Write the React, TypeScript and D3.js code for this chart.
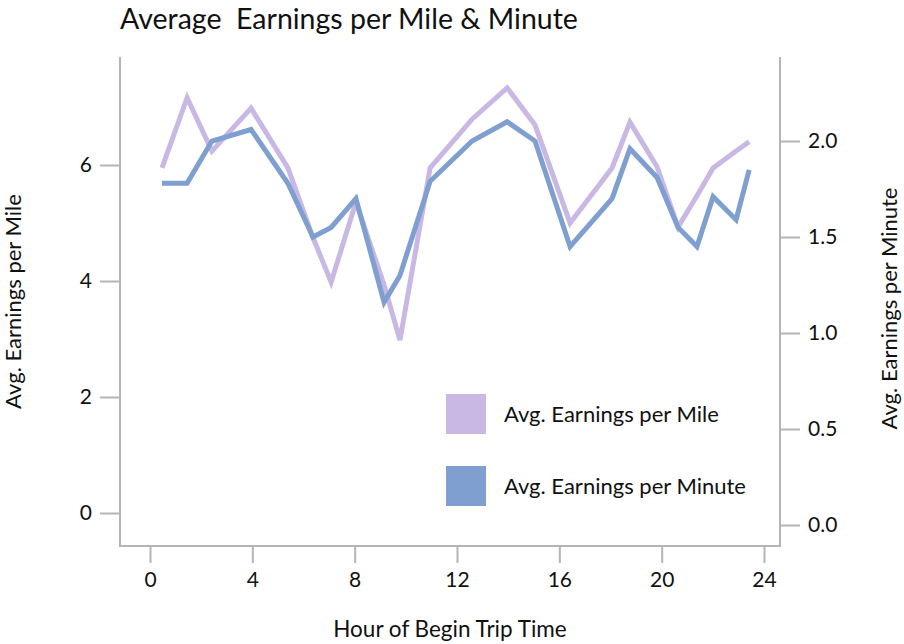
import React, { useEffect, useRef } from 'react';
import * as d3 from 'd3';

// Hour of trip start (binned mean hour) and the two averages
const hours = [0.47, 1.45, 2.42, 3.95, 5.39, 6.37, 7.08, 8.05, 9.15, 9.77, 10.95, 12.59, 13.96, 15.05, 16.42, 18.06, 18.76, 19.82, 20.64, 21.38, 22.01, 22.91, 23.42];
const perMile = [5.95, 7.16, 6.24, 6.98, 5.95, 4.75, 3.98, 5.36, 3.93, 2.98, 5.95, 6.79, 7.33, 6.69, 5.0, 5.95, 6.74, 5.97, 4.93, 5.47, 5.95, 6.24, 6.4];
const perMinute = [1.78, 1.78, 2.0, 2.06, 1.78, 1.5, 1.55, 1.7, 1.16, 1.3, 1.79, 2.0, 2.1, 2.0, 1.45, 1.7, 1.96, 1.81, 1.55, 1.45, 1.71, 1.59, 1.85];

const xTicks = [0, 4, 8, 12, 16, 20, 24];
const mileTicks = [0, 2, 4, 6];
const minuteTicks = [0, 0.5, 1, 1.5, 2];

const seriesNames = ['Avg. Earnings per Mile', 'Avg. Earnings per Minute'];
const seriesColors = ['#c8b8e3', '#7e9fd0'];

const FONT = 'Lato, "Source Sans Pro", "Noto Sans", sans-serif';
const AXIS_COLOR = '#b5b5b5';

function App() {
  const svgRef = useRef<SVGSVGElement>(null);

  useEffect(() => {
    const svg = d3.select(svgRef.current);
    svg.selectAll('*').remove();

    const plot = { left: 120, right: 780, top: 57, bottom: 546 };

    const x = d3.scaleLinear().domain([0, 24]).range([150, 764]);
    const yMile = d3.scaleLinear().domain([0, 6]).range([513, 165]);
    const yMinute = d3.scaleLinear().domain([0, 2]).range([525, 141]);

    // title
    svg.append('text')
      .attr('x', plot.left)
      .attr('y', 28.5)
      .attr('font-size', 28.5)
      .attr('fill', '#111')
      .style('white-space', 'pre')
      .text('Average  Earnings per Mile & Minute');

    // axes
    const styleAxis = (g, size) => {
      g.select('.domain').remove();
      g.selectAll('line').attr('stroke', AXIS_COLOR).attr('stroke-width', 2);
      g.selectAll('text').attr('font-family', FONT).attr('font-size', size).attr('fill', '#111');
    };

    svg.append('g')
      .attr('transform', `translate(0,${plot.bottom})`)
      .call(d3.axisBottom(x).tickValues(xTicks).tickSize(17).tickPadding(9))
      .call(g => styleAxis(g, 21));

    svg.append('g')
      .attr('transform', `translate(${plot.left},0)`)
      .call(d3.axisLeft(yMile).tickValues(mileTicks).tickFormat(d3.format('d')).tickSize(20).tickPadding(8))
      .call(g => styleAxis(g, 21));

    svg.append('g')
      .attr('transform', `translate(${plot.right},0)`)
      .call(d3.axisRight(yMinute).tickValues(minuteTicks).tickFormat(d3.format('.1f')).tickSize(20).tickPadding(8))
      .call(g => styleAxis(g, 21));

    // frame lines
    svg.append('path')
      .attr('d', `M${plot.left},${plot.top}V${plot.bottom}H${plot.right}V${plot.top}`)
      .attr('fill', 'none')
      .attr('stroke', AXIS_COLOR)
      .attr('stroke-width', 2);

    // axis titles
    svg.append('text')
      .attr('transform', `translate(21,${(plot.top + plot.bottom) / 2}) rotate(-90)`)
      .attr('text-anchor', 'middle')
      .attr('font-size', 22)
      .attr('fill', '#111')
      .text('Avg. Earnings per Mile');

    svg.append('text')
      .attr('transform', `translate(897,${(plot.top + plot.bottom) / 2 + 7}) rotate(-90)`)
      .attr('text-anchor', 'middle')
      .attr('font-size', 22)
      .attr('fill', '#111')
      .text('Avg. Earnings per Minute');

    svg.append('text')
      .attr('x', 450)
      .attr('y', 637)
      .attr('text-anchor', 'middle')
      .attr('font-size', 22.5)
      .attr('fill', '#111')
      .text('Hour of Begin Trip Time');

    // lines
    const mileLine = d3.line<number>().x((d, i) => x(hours[i])).y(d => yMile(d));
    const minuteLine = d3.line<number>().x((d, i) => x(hours[i])).y(d => yMinute(d));

    svg.append('path')
      .datum(perMile)
      .attr('d', mileLine)
      .attr('fill', 'none')
      .attr('stroke', seriesColors[0])
      .attr('stroke-width', 5);

    svg.append('path')
      .datum(perMinute)
      .attr('d', minuteLine)
      .attr('fill', 'none')
      .attr('stroke', seriesColors[1])
      .attr('stroke-width', 5);

    // legend
    const legend = svg.append('g').attr('transform', 'translate(446,394)');
    const items = legend.selectAll('g')
      .data(seriesNames)
      .enter()
      .append('g')
      .attr('transform', (d, i) => `translate(0,${i * 72})`);

    items.append('rect')
      .attr('width', 40)
      .attr('height', 40)
      .attr('fill', (d, i) => seriesColors[i]);

    items.append('text')
      .attr('x', 58)
      .attr('y', 20)
      .attr('dy', '0.35em')
      .attr('font-size', 22)
      .attr('fill', '#111')
      .text(d => d);
  }, []);

  return (
    <div style={{ position: 'absolute', left: 0, top: 0, background: '#fff' }}>
      <svg ref={svgRef} width={904} height={644} style={{ display: 'block', fontFamily: FONT }} />
    </div>
  );
}

export default App;
